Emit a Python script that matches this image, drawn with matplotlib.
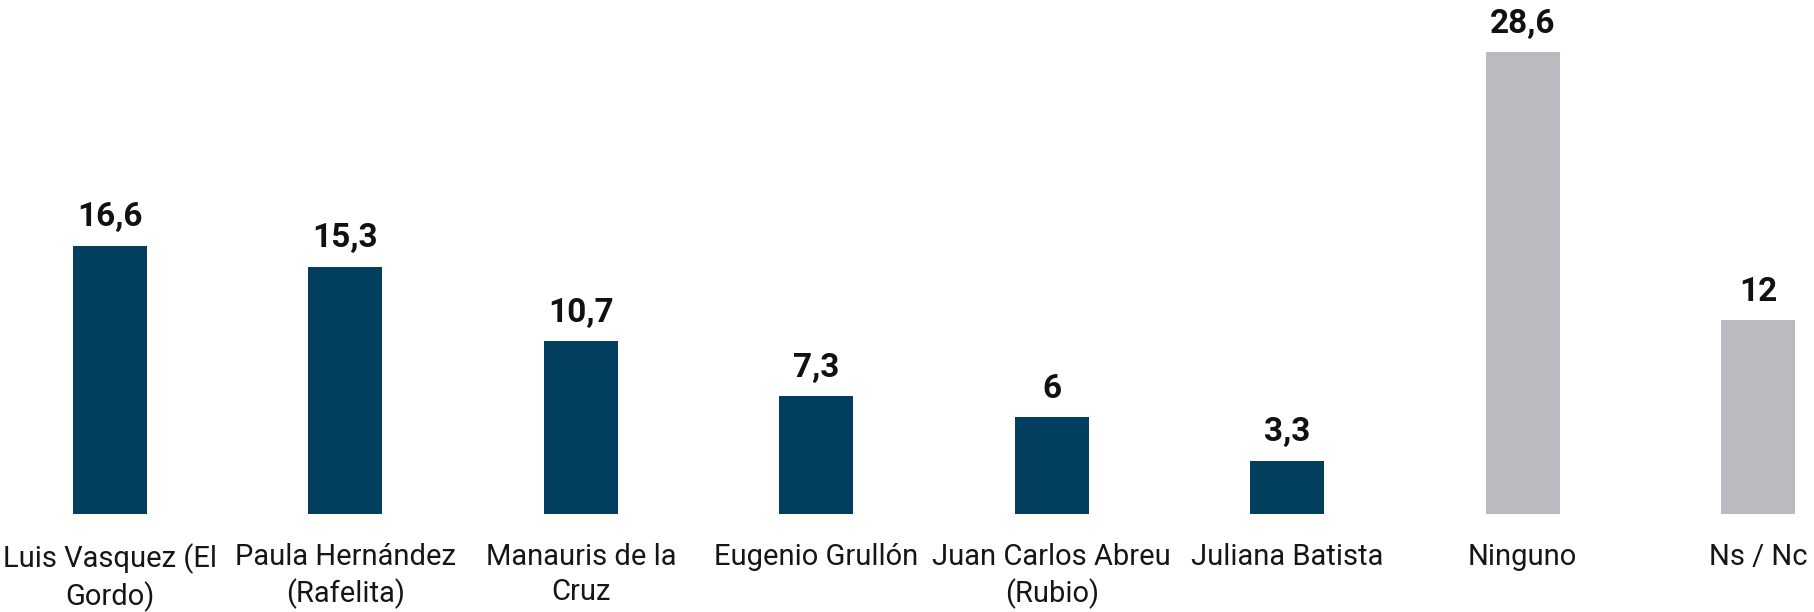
import matplotlib
matplotlib.use('Agg')
import matplotlib.pyplot as plt

# data
categories = ['Luis Vasquez (El\nGordo)', 'Paula Hernández\n(Rafelita)', 'Manauris de la\nCruz',
              'Eugenio Grullón', 'Juan Carlos Abreu\n(Rubio)', 'Juliana Batista', 'Ninguno', 'Ns / Nc']
values = [16.6, 15.3, 10.7, 7.3, 6, 3.3, 28.6, 12]
value_labels = ['16,6', '15,3', '10,7', '7,3', '6', '3,3', '28,6', '12']

navy = '#023e5e'
grey = '#b9bbc0'
colors = [navy] * 6 + [grey] * 2

plt.rcParams['font.family'] = ['Roboto', 'DejaVu Sans']

fig = plt.figure(figsize=(18.15, 6.12), dpi=100)
ax = fig.add_axes([0, 0.1601, 1, 0.8399])

x = range(len(values))
bars = ax.bar(x, values, width=0.315, color=colors)

for b, lab in zip(bars, value_labels):
    ax.annotate(lab, (b.get_x() + b.get_width() / 2, b.get_height()),
                xytext=(0, 9), textcoords='offset points', ha='center', va='bottom',
                fontsize=24, fontweight='bold', color='#111111')

ax.set_xticks(list(x))
ax.set_xticklabels(categories, fontsize=21, color='#161616', linespacing=1.3)
ax.tick_params(axis='x', length=0, pad=21)
ax.set_yticks([])
ax.set_xlim(-0.467, 7.242)
ax.set_ylim(0, 31.83)
for s in ax.spines.values():
    s.set_visible(False)

fig.savefig('out.png', dpi=100)
